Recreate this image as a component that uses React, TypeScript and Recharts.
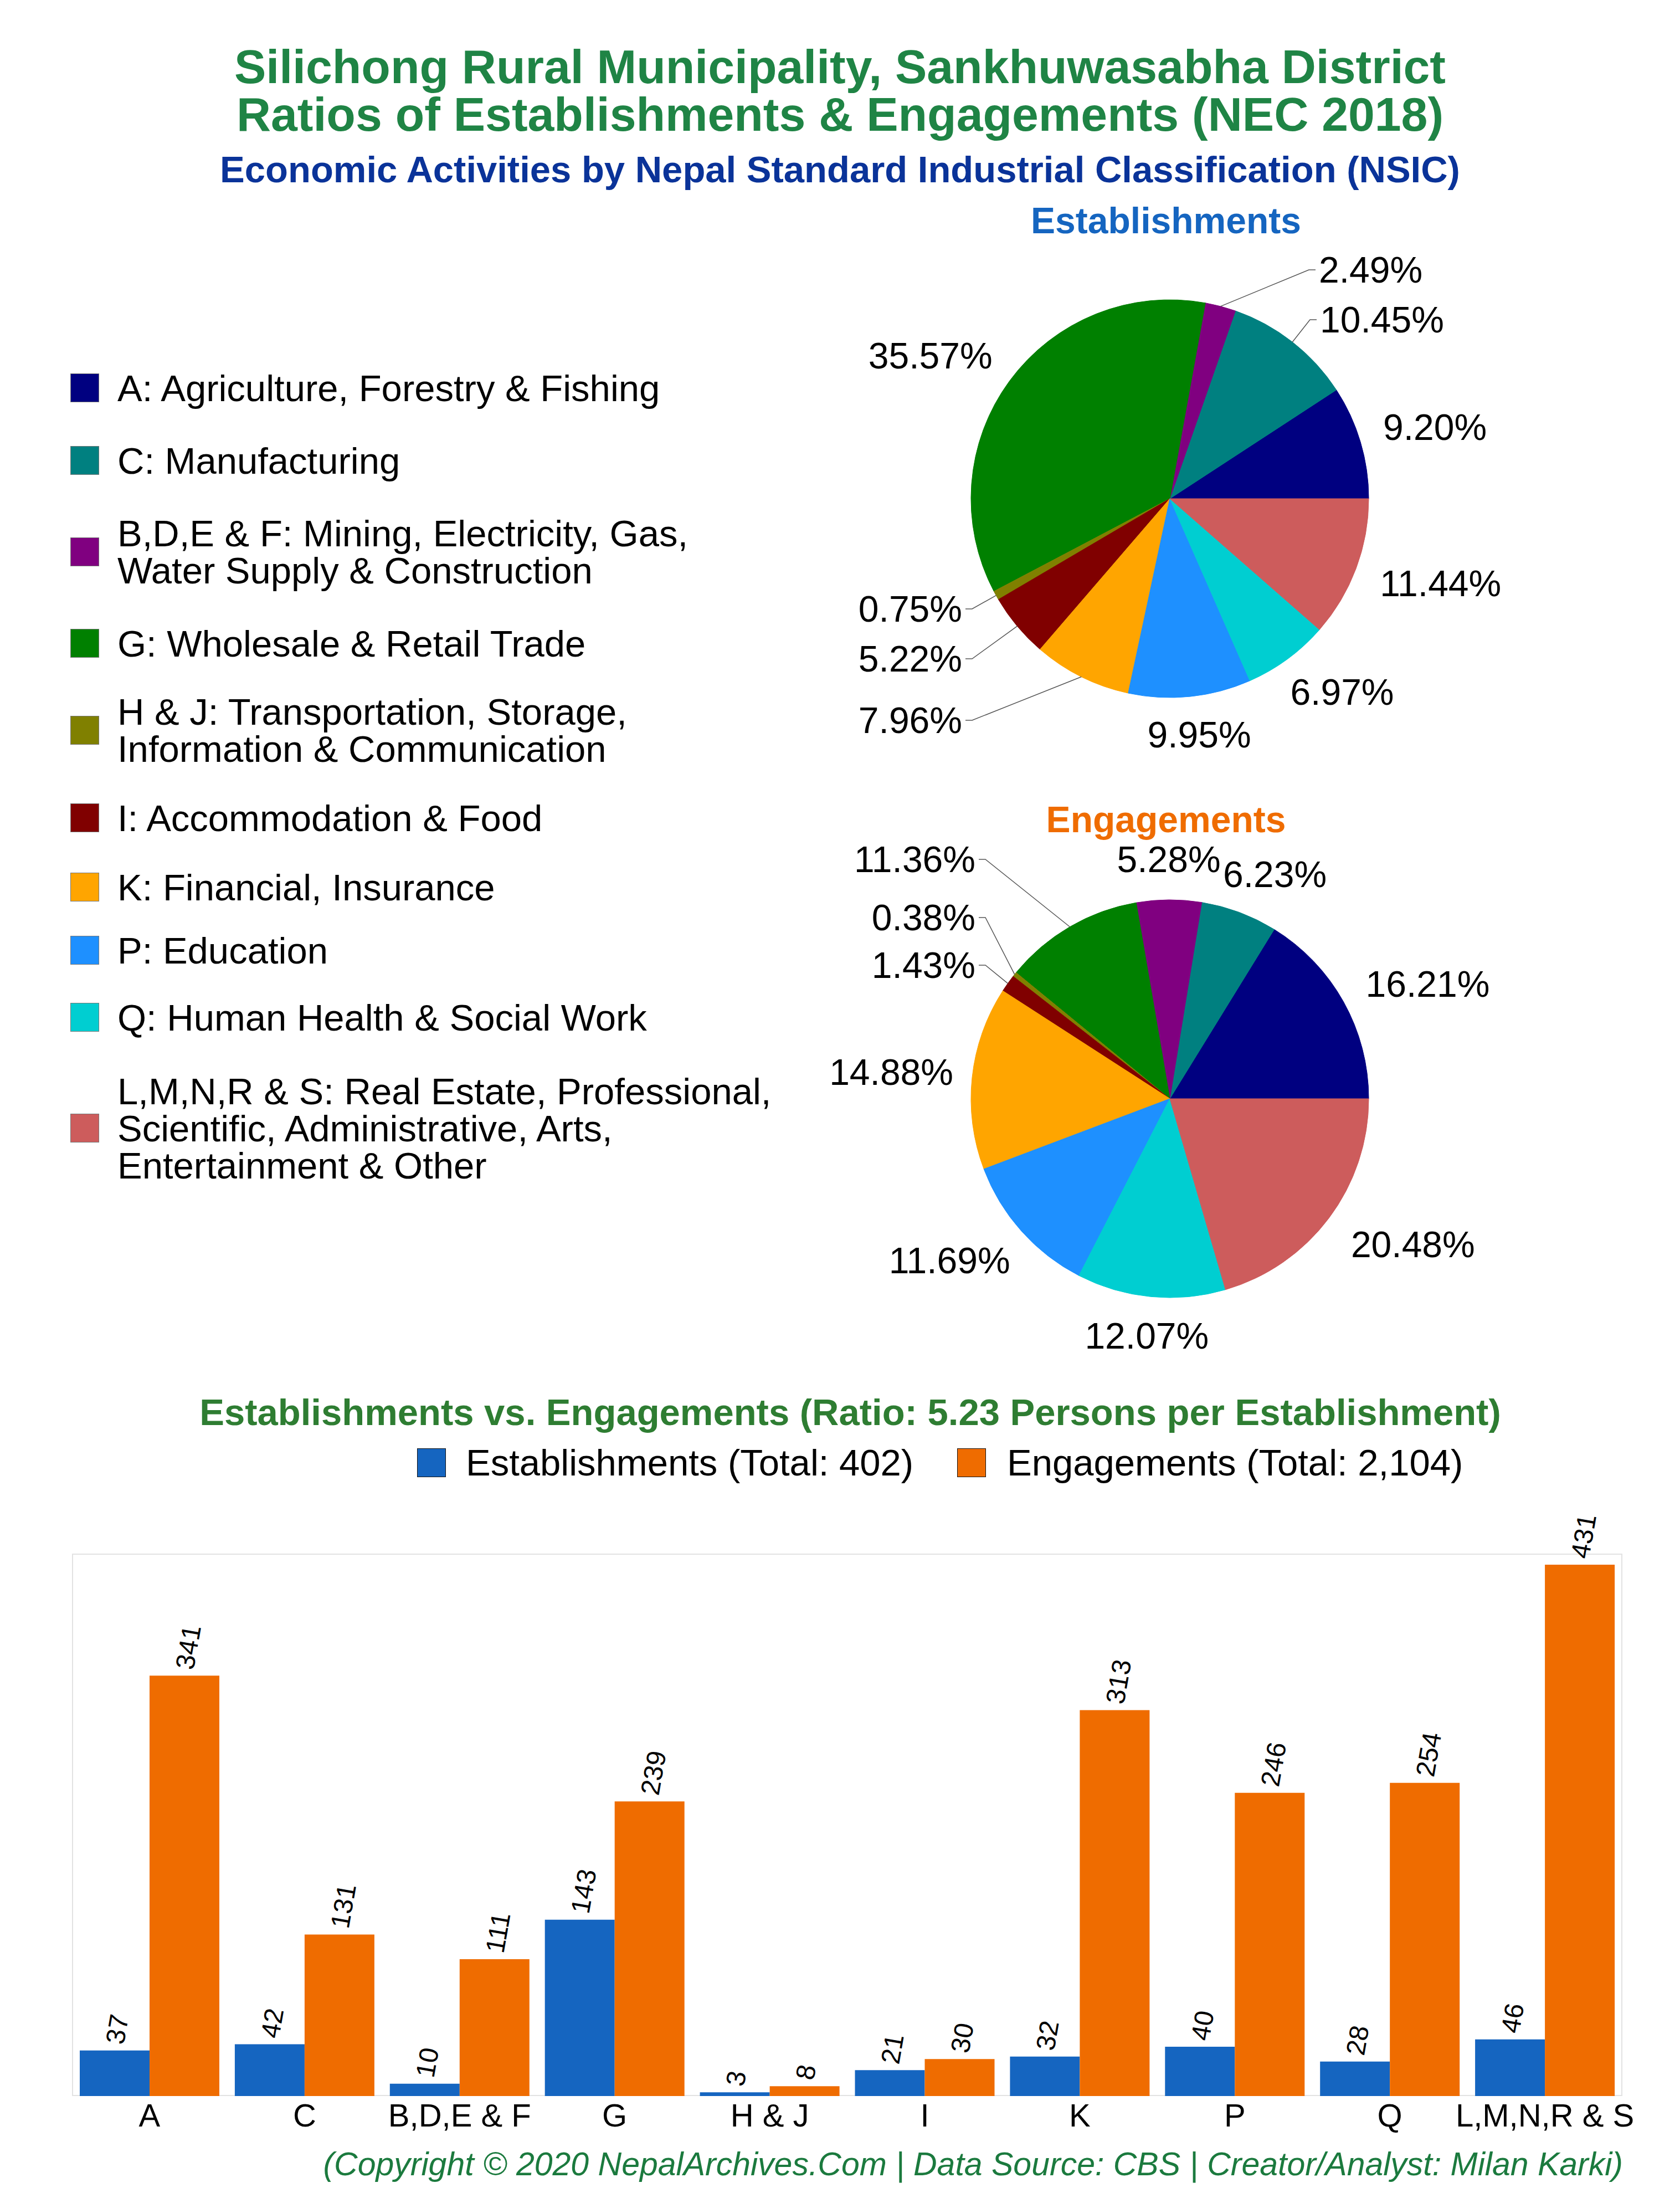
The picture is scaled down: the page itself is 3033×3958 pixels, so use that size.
import React from 'react';
import { PieChart, Pie, Cell, BarChart, Bar, XAxis, YAxis, LabelList } from 'recharts';

const categories = ['A', 'C', 'B,D,E & F', 'G', 'H & J', 'I', 'K', 'P', 'Q', 'L,M,N,R & S'];
const legendNames = [
  'A: Agriculture, Forestry & Fishing',
  'C: Manufacturing',
  'B,D,E & F: Mining, Electricity, Gas,\nWater Supply & Construction',
  'G: Wholesale & Retail Trade',
  'H & J: Transportation, Storage,\nInformation & Communication',
  'I: Accommodation & Food',
  'K: Financial, Insurance',
  'P: Education',
  'Q: Human Health & Social Work',
  'L,M,N,R & S: Real Estate, Professional,\nScientific, Administrative, Arts,\nEntertainment & Other',
];
const establishments = [37, 42, 10, 143, 3, 21, 32, 40, 28, 46];
const engagements = [341, 131, 111, 239, 8, 30, 313, 246, 254, 431];
const sliceColors = ['#000080', '#008080', '#800080', '#008000', '#808000', '#800000', '#FFA500', '#1E90FF', '#00CED1', '#CD5C5C'];

// layout only: vertical centre of each legend row
const legendRowY = [700, 831, 996, 1161, 1318, 1476, 1601, 1715, 1836, 2036];

const FONT = '"Liberation Sans", Arial, Helvetica, sans-serif';
const BLUE = '#1565C0';
const ORANGE = '#EF6C00';

const totalEst = establishments.reduce((a, b) => a + b, 0);
const totalEng = engagements.reduce((a, b) => a + b, 0);

const estPie = categories.map((c, i) => ({ name: c, value: establishments[i] }));
const engPie = categories.map((c, i) => ({ name: c, value: engagements[i] }));
const barData = categories.map((c, i) => ({ cat: c, est: establishments[i], eng: engagements[i] }));

type Off = { dx: number; dy: number };

// labels pulled away from the slice, joined with a leader line (offset from pie centre)
const estLeaders: Record<number, Off> = {
  1: { dx: 271, dy: -323 },
  2: { dx: 269, dy: -413 },
  4: { dx: -375, dy: 199 },
  5: { dx: -375, dy: 289 },
  6: { dx: -375, dy: 400 },
};
const engLeaders: Record<number, Off> = {
  3: { dx: -351, dy: -432 },
  4: { dx: -351, dy: -327 },
  5: { dx: -351, dy: -241 },
};
// small nudges for the outside labels to avoid crowding
const estNudge: Record<number, Off> = {
  0: { dx: 7, dy: 11 },
  3: { dx: -27, dy: 39 },
  7: { dx: 9, dy: -7 },
  8: { dx: 30, dy: -34 },
  9: { dx: 12, dy: -26 },
};
const engNudge: Record<number, Off> = {
  0: { dx: 23, dy: 40 },
  1: { dx: 30, dy: 23 },
  2: { dx: 0, dy: -6 },
  6: { dx: 2, dy: 6 },
  7: { dx: -26, dy: -40 },
  8: { dx: 0, dy: -7 },
  9: { dx: 37, dy: -38 },
};

const charW: Record<string, number> = { '.': 0.278, '%': 0.889 };
const textWidth = (s: string, fs: number) =>
  s.split('').reduce((w, ch) => w + (charW[ch] ?? 0.556), 0) * fs;

const LABEL_FS = 66;

const makePieLabel = (total: number, leaders: Record<number, Off>, nudge: Record<number, Off>) =>
  (props: any) => {
    const { cx, cy, midAngle, outerRadius, value, index } = props;
    const rad = (midAngle * Math.PI) / 180;
    const cos = Math.cos(rad);
    const sin = Math.sin(rad);
    const txt = ((value / total) * 100).toFixed(2) + '%';
    const lead = leaders[index];
    if (lead) {
      const ex = cx + outerRadius * cos;
      const ey = cy - outerRadius * sin;
      const tx = cx + lead.dx;
      const ty = cy + lead.dy;
      const s = lead.dx < 0 ? 1 : -1;
      return (
        <g>
          <polyline
            points={`${ex},${ey} ${tx + s * 18},${ty} ${tx + s * 6},${ty}`}
            fill="none"
            stroke="#555"
            strokeWidth={1.5}
          />
          <text x={tx} y={ty} textAnchor={lead.dx < 0 ? 'end' : 'start'} dominantBaseline="central"
            fontSize={LABEL_FS} fill="#000">{txt}</text>
        </g>
      );
    }
    const w = textWidth(txt, LABEL_FS);
    const d = outerRadius + 34 + Math.abs(cos) * w / 2 + Math.abs(sin) * LABEL_FS / 2;
    const n = nudge[index] || { dx: 0, dy: 0 };
    return (
      <text x={cx + d * cos + n.dx} y={cy - d * sin + n.dy} textAnchor="middle" dominantBaseline="central"
        fontSize={LABEL_FS} fill="#000">{txt}</text>
    );
  };

const renderBarLabel = (props: any) => {
  const { x, y, width, value } = props;
  const lx = x + width / 2;
  const ly = y - 12;
  return (
    <text x={lx} y={ly} transform={`rotate(-80 ${lx} ${ly})`} textAnchor="start"
      dominantBaseline="central" fontSize={48} fill="#000">{value}</text>
  );
};

const abs = (left: number, top: number, extra: React.CSSProperties = {}): React.CSSProperties => ({
  position: 'absolute', left, top, ...extra,
});

const PieBlock = ({ data, top, total, leaders, nudge }: any) => (
  <div style={abs(1357, top)}>
    <PieChart width={1500} height={1000}>
      <Pie
        data={data}
        dataKey="value"
        nameKey="name"
        cx={750}
        cy={500}
        outerRadius={359}
        startAngle={0}
        endAngle={360}
        labelLine={false}
        label={makePieLabel(total, leaders, nudge)}
        isAnimationActive={false}
      >
        {data.map((_: any, i: number) => (
          <Cell key={i} fill={sliceColors[i]} stroke={sliceColors[i]} strokeWidth={1} />
        ))}
      </Pie>
    </PieChart>
  </div>
);

const App = () => {
  return (
    <div style={{ position: 'absolute', left: 0, top: 0, width: 3033, height: 3958, background: '#fff', fontFamily: FONT, color: '#000' }}>
      <div style={abs(0, 77, { width: 3033, textAlign: 'center', fontSize: 86, lineHeight: '86px', fontWeight: 700, color: '#1f8445' })}>
        Silichong Rural Municipality, Sankhuwasabha District<br />
        Ratios of Establishments &amp; Engagements (NEC 2018)
      </div>
      <div style={abs(0, 272, { width: 3033, textAlign: 'center', fontSize: 67, lineHeight: '67px', fontWeight: 700, color: '#0a3399' })}>
        Economic Activities by Nepal Standard Industrial Classification (NSIC)
      </div>

      <div style={abs(1605, 365, { width: 1000, textAlign: 'center', fontSize: 66, lineHeight: '66px', fontWeight: 700, color: BLUE })}>
        Establishments
      </div>
      <div style={abs(1605, 1446, { width: 1000, textAlign: 'center', fontSize: 66, lineHeight: '66px', fontWeight: 700, color: ORANGE })}>
        Engagements
      </div>

      <PieBlock data={estPie} top={395} total={totalEst} leaders={estLeaders} nudge={estNudge} />
      <PieBlock data={engPie} top={1478} total={totalEng} leaders={engLeaders} nudge={engNudge} />

      {legendNames.map((n, i) => {
        const lines = n.split('\n').length;
        return (
          <div key={i} style={abs(127, legendRowY[i] - (lines * 67) / 2, { display: 'flex', alignItems: 'center' })}>
            <div style={{ width: 50, height: 50, background: sliceColors[i], border: '1px solid #777', marginRight: 33, flex: 'none' }} />
            <div style={{ fontSize: 67, lineHeight: '67px', whiteSpace: 'pre-line' }}>{n}</div>
          </div>
        );
      })}

      <div style={abs(35, 2515, { width: 3000, textAlign: 'center', fontSize: 67, lineHeight: '67px', fontWeight: 700, color: '#2e7d32' })}>
        Establishments vs. Engagements (Ratio: {(totalEng / totalEst).toFixed(2)} Persons per Establishment)
      </div>
      <div style={abs(753, 2606, { display: 'flex', alignItems: 'center', fontSize: 67, lineHeight: '67px' })}>
        <div style={{ width: 50, height: 50, background: BLUE, border: '1px solid #111', marginRight: 36 }} />
        <span style={{ marginRight: 79 }}>Establishments (Total: {totalEst.toLocaleString('en-US')})</span>
        <div style={{ width: 50, height: 50, background: ORANGE, border: '1px solid #111', marginRight: 38 }} />
        <span>Engagements (Total: {totalEng.toLocaleString('en-US')})</span>
      </div>

      <div style={abs(130, 2804, { width: 2799, height: 979, border: '2px solid #e2e2e2', boxSizing: 'border-box' })} />
      <div style={abs(0, 2700)}>
        <BarChart width={3033} height={1200} data={barData}
          margin={{ top: 104, right: 104, left: 130, bottom: 0 }} barCategoryGap="5%" barGap={0}>
          <XAxis dataKey="cat" height={117} interval={0} tickLine={false} axisLine={false} tickSize={0} tickMargin={14}
            tick={{ fontSize: 58, fill: '#000' }} />
          <YAxis hide domain={[0, 440]} />
          <Bar dataKey="est" fill={BLUE} isAnimationActive={false}>
            <LabelList dataKey="est" content={renderBarLabel} />
          </Bar>
          <Bar dataKey="eng" fill={ORANGE} isAnimationActive={false}>
            <LabelList dataKey="eng" content={renderBarLabel} />
          </Bar>
        </BarChart>
      </div>

      <div style={abs(0, 3877, { width: 2930, textAlign: 'right', fontSize: 59, lineHeight: '59px', fontStyle: 'italic', color: '#1b7a3e' })}>
        (Copyright © 2020 NepalArchives.Com | Data Source: CBS | Creator/Analyst: Milan Karki)
      </div>
    </div>
  );
};

export default App;
